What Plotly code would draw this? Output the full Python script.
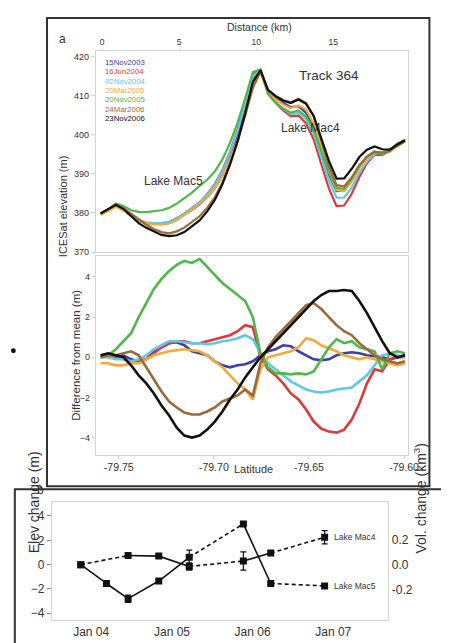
import plotly.graph_objects as go

W, H = 449, 643

# ---------------- data: panel a (profiles along Track 364) ----------------
LATITUDE = [-79.7595, -79.7555, -79.7515, -79.7475, -79.7435, -79.7395, -79.7355, -79.7315,
            -79.7275, -79.7235, -79.7195, -79.7155, -79.7115, -79.7075, -79.7035, -79.6995,
            -79.6955, -79.6915, -79.6875, -79.6835, -79.6795, -79.6755, -79.6715, -79.6675,
            -79.6635, -79.6595, -79.6555, -79.6515, -79.6475, -79.6435, -79.6395, -79.6355,
            -79.6315, -79.6275, -79.6235, -79.6195, -79.6155, -79.6115, -79.6075, -79.6035,
            -79.5995]

MEAN_ELEVATION = [379.8, 380.8, 382.0, 381.0, 379.5, 378.3, 377.5, 377.0, 376.8, 377.0,
                  377.8, 379.0, 380.5, 382.0, 384.0, 386.5, 390.0, 394.5, 400.0, 406.5,
                  414.0, 416.5, 411.0, 409.0, 407.5, 406.5, 407.0, 405.5, 402.0, 396.0,
                  390.0, 385.5, 385.5, 388.0, 391.5, 394.0, 395.5, 395.5, 396.0, 397.5, 398.5]

DIFF_15NOV2003 = [0.1, 0.0, 0.0, 0.1, -0.1, -0.2, -0.1, 0.3, 0.5, 0.7, 0.75, 0.6, 0.3, 0.2, 0.1,
                  -0.2, -0.4, -0.5, -0.4, -0.35, -0.2, 0.1, 0.3, 0.4, 0.6, 0.55, 0.3, 0.1, -0.1,
                  -0.15, -0.1, 0.1, 0.2, 0.25, 0.2, 0.1, 0.05, 0.0, -0.1, 0.0, 0.1]
DIFF_16JUN2004 = [0.0, 0.1, 0.0, -0.1, -0.2, -0.2, -0.1, 0.2, 0.5, 0.7, 0.8, 0.8, 0.7, 0.7, 0.8,
                  0.9, 1.0, 1.1, 1.3, 1.6, 1.5, 0.0, -0.6, -0.9, -1.3, -1.8, -2.1, -2.6, -3.2,
                  -3.55, -3.7, -3.75, -3.6, -3.1, -2.3, -1.3, -0.6, -0.7, -0.1, 0.0, 0.0]
DIFF_02NOV2004 = [0.0, 0.0, -0.1, -0.1, -0.2, -0.1, 0.1, 0.4, 0.6, 0.8, 0.8, 0.75, 0.7, 0.7, 0.65,
                  0.7, 0.8, 0.85, 0.95, 1.1, 0.9, 0.2, -0.3, -0.6, -0.9, -1.2, -1.4, -1.6, -1.7,
                  -1.75, -1.7, -1.6, -1.55, -1.5, -1.2, -0.9, -0.4, 0.1, 0.2, 0.1, 0.0]
DIFF_20MAR2005 = [-0.3, -0.3, -0.4, -0.4, -0.3, -0.3, -0.1, 0.1, 0.2, 0.3, 0.35, 0.4, 0.35, 0.3,
                  0.1, -0.2, -0.5, -0.9, -1.3, -1.6, -2.1, -0.6, 0.0, 0.1, 0.2, 0.3, 0.5, 0.95,
                  0.85, 0.6, 0.45, 0.3, 0.1, 0.0, -0.1, 0.0, -0.1, -0.2, -0.3, -0.4, -0.3]
DIFF_20NOV2005 = [0.0, 0.1, 0.4, 0.8, 1.2, 2.0, 2.7, 3.4, 3.9, 4.3, 4.6, 4.8, 4.7, 4.9, 4.5, 4.1,
                  3.7, 3.4, 3.1, 2.8, 2.0, 0.2, -0.5, -0.8, -0.8, -0.85, -0.8, -0.85, -0.7, -0.1,
                  0.5, 0.9, 0.7, 0.8, 0.5, 0.4, 0.3, -0.6, 0.2, 0.3, 0.2]
DIFF_24MAR2006 = [0.0, 0.1, 0.1, 0.2, 0.3, 0.1, -0.5, -1.1, -1.7, -2.2, -2.5, -2.75, -2.85,
                  -2.85, -2.7, -2.5, -2.2, -2.05, -1.9, -1.6, -1.9, -0.3, 0.5, 1.0, 1.4, 1.8,
                  2.2, 2.6, 2.7, 2.4, 2.0, 1.6, 1.3, 1.1, 0.7, 0.4, 0.1, -0.1, -0.2, -0.3, -0.2]
DIFF_23NOV2006 = [0.1, 0.2, 0.1, 0.0, -0.4, -0.9, -1.3, -1.8, -2.4, -2.9, -3.5, -3.9, -4.0,
                  -3.9, -3.6, -3.2, -2.7, -2.1, -1.6, -1.0, -0.5, 0.0, 0.4, 0.8, 1.2, 1.6, 2.0,
                  2.4, 2.8, 3.1, 3.3, 3.3, 3.35, 3.3, 2.8, 2.2, 1.5, 0.8, 0.2, 0.0, 0.1]

PASS_LABELS = ["15Nov2003", "16Jun2004", "02Nov2004", "20Mar2005",
               "20Nov2005", "24Mar2006", "23Nov2006"]
PASS_COLORS = ["#3b3fae", "#e0383a", "#5ec8e6", "#f2aa3c", "#4fb84a", "#9a6b3a", "#111111"]

DIST_TICKS_KM = [0, 5, 10, 15]
LAT_AT_0KM = -79.7587
DEG_PER_KM = 0.0081
LAT_TICKS = [-79.75, -79.70, -79.65, -79.60]
ELEV_TICKS = [370, 380, 390, 400, 410, 420]
DIFF_TICKS = [-4, -2, 0, 2, 4]

# ---------------- data: panel b (time series) ----------------
MAC5_DATES = ["2003-11-15", "2004-03-10", "2004-06-16", "2004-11-02", "2005-03-20",
              "2005-11-20", "2006-03-24", "2006-11-23"]
MAC5_ELEV = [0.0, -1.55, -2.8, -1.35, 0.6, 3.35, -1.55, -1.75]
MAC5_ERR = [0.0, 0.1, 0.3, 0.1, 0.6, 0.15, 0.1, 0.1]
MAC5_SEG = ["solid", "solid", "solid", "solid", "dash", "solid", "dash"]

MAC4_DATES = ["2003-11-15", "2004-06-16", "2004-11-02", "2005-03-20",
              "2005-11-20", "2006-03-24", "2006-11-23"]
MAC4_ELEV = [0.0, 0.75, 0.7, -0.15, 0.3, 0.95, 2.25]
MAC4_ERR = [0.0, 0.1, 0.1, 0.3, 0.75, 0.1, 0.55]
MAC4_SEG = ["dash", "solid", "solid", "dash", "solid", "dash"]

TIME_TICKS = ["2004-01-01", "2005-01-01", "2006-01-01", "2007-01-01"]
TIME_TICK_TEXT = ["Jan 04", "Jan 05", "Jan 06", "Jan 07"]
ELEV_CHANGE_TICKS = [-4, -2, 0, 2, 4]
VOL_TICKS = [-0.2, 0.0, 0.2]
VOL_TICK_TEXT = ["-0.2", "0.0", "0.2"]

FONT = "Arial, Liberation Sans, Helvetica, sans-serif"
TXT = "#333333"


def fx(p):
    return p / W


def fy(p):
    return 1 - p / H


fig = go.Figure()

diffs = [DIFF_15NOV2003, DIFF_16JUN2004, DIFF_02NOV2004, DIFF_20MAR2005,
         DIFF_20NOV2005, DIFF_24MAR2006, DIFF_23NOV2006]

for lab, col, d in zip(PASS_LABELS, PASS_COLORS, diffs):
    elev = [m + v for m, v in zip(MEAN_ELEVATION, d)]
    fig.add_trace(go.Scatter(x=LATITUDE, y=elev, xaxis="x", yaxis="y", mode="lines",
                             line=dict(color=col, width=2.2), name=lab, showlegend=False))
    fig.add_trace(go.Scatter(x=LATITUDE, y=d, xaxis="x2", yaxis="y2", mode="lines",
                             line=dict(color=col, width=2.6), name=lab, showlegend=False))


def add_series(dates, vals, segs):
    for i, st in enumerate(segs):
        fig.add_trace(go.Scatter(x=dates[i:i + 2], y=vals[i:i + 2], xaxis="x3", yaxis="y3",
                                 mode="lines", showlegend=False,
                                 line=dict(color="#111111", width=1.6,
                                           dash="solid" if st == "solid" else "4px,3px")))


add_series(MAC5_DATES, MAC5_ELEV, MAC5_SEG)
add_series(MAC4_DATES, MAC4_ELEV, MAC4_SEG)
for dates, vals, err in [(MAC5_DATES, MAC5_ELEV, MAC5_ERR), (MAC4_DATES, MAC4_ELEV, MAC4_ERR)]:
    fig.add_trace(go.Scatter(x=dates, y=vals, xaxis="x3", yaxis="y3", mode="markers",
                             showlegend=False,
                             marker=dict(symbol="square", size=7, color="#111111"),
                             error_y=dict(type="data", array=err, visible=True,
                                          color="#111111", thickness=1.2, width=3)))

# empty trace so that the right-hand axis is drawn
fig.add_trace(go.Scatter(x=[None], y=[None], xaxis="x3", yaxis="y4", showlegend=False,
                         hoverinfo="skip"))

LAT_RANGE = [-79.76205, -79.59795]
grid_line = "#d4d4d4"
tickfont = dict(family=FONT, size=9, color=TXT)

fig.update_layout(
    width=W, height=H, margin=dict(l=0, r=0, t=0, b=0),
    paper_bgcolor="white", plot_bgcolor="white", showlegend=False,
    font=dict(family=FONT, color=TXT),
    xaxis=dict(domain=[fx(90), fx(410)], anchor="y", side="top", range=LAT_RANGE,
               tickvals=[LAT_AT_0KM + DEG_PER_KM * k for k in DIST_TICKS_KM],
               ticktext=[str(k) for k in DIST_TICKS_KM],
               tickfont=dict(family=FONT, size=8.5, color=TXT),
               showgrid=False, zeroline=False, showline=True, mirror=True,
               linecolor=grid_line, linewidth=1, ticks="outside", ticklen=1,
               tickcolor=grid_line),
    yaxis=dict(domain=[fy(246), fy(43)], anchor="x", range=[370.0, 421.5],
               tickvals=ELEV_TICKS, tickfont=tickfont, showgrid=False, zeroline=False,
               showline=True, mirror=True, linecolor=grid_line, linewidth=1,
               ticks="outside", ticklen=4, tickcolor=grid_line),
    xaxis2=dict(domain=[fx(90), fx(410)], anchor="y2", range=LAT_RANGE,
                tickvals=LAT_TICKS, ticktext=["%.2f" % v for v in LAT_TICKS],
                tickfont=dict(family=FONT, size=10.5, color=TXT),
                showgrid=False, zeroline=False, showline=True, mirror=True,
                linecolor=grid_line, linewidth=1, ticks="outside", ticklen=3,
                tickcolor=grid_line),
    yaxis2=dict(domain=[fy(450), fy(250)], anchor="x2", range=[-4.84, 5.04],
                tickvals=DIFF_TICKS, tickfont=tickfont, showgrid=False, zeroline=False,
                showline=True, mirror=True, linecolor=grid_line, linewidth=1,
                ticks="outside", ticklen=3, tickcolor=grid_line),
    xaxis3=dict(domain=[fx(45), fx(390)], anchor="y3", type="date",
                range=["2003-07-07", "2007-09-08"], tickvals=TIME_TICKS,
                ticktext=TIME_TICK_TEXT, tickfont=dict(family=FONT, size=12, color=TXT),
                showgrid=False, zeroline=False, showline=True, mirror=True,
                linecolor=grid_line, linewidth=1, ticks=""),
    yaxis3=dict(domain=[fy(617), fy(498)], anchor="x3", range=[-4.57, 5.14],
                tickvals=ELEV_CHANGE_TICKS, tickfont=dict(family=FONT, size=12, color=TXT),
                showgrid=False, zeroline=False, showline=True, mirror=False,
                linecolor=grid_line, linewidth=1, ticks="outside", ticklen=4,
                tickcolor="#888888"),
    yaxis4=dict(overlaying="y3", anchor="x3", side="right", range=[-0.448, 0.504],
                tickvals=VOL_TICKS, ticktext=VOL_TICK_TEXT,
                tickfont=dict(family=FONT, size=12, color=TXT), showgrid=False,
                zeroline=False, showline=True, linecolor=grid_line, linewidth=1,
                ticks=""),
)

shapes = [
    dict(type="rect", xref="paper", yref="paper", x0=fx(40), x1=fx(432), y0=fy(482), y1=fy(10),
         line=dict(color="#333333", width=2)),
    dict(type="rect", xref="paper", yref="paper", x0=fx(7), x1=fx(446), y0=fy(641), y1=fy(485),
         line=dict(color="#333333", width=2)),
    dict(type="circle", xref="paper", yref="paper", x0=fx(3), x1=fx(8), y0=fy(348), y1=fy(343),
         fillcolor="#111111", line=dict(width=0)),
]
fig.update_layout(shapes=shapes)

ann = []
for k, (lab, col) in enumerate(zip(PASS_LABELS, PASS_COLORS)):
    ann.append(dict(xref="paper", yref="paper", x=fx(97), y=fy(55 + 9.4 * k), text=lab,
                    showarrow=False, xanchor="left", yanchor="middle",
                    font=dict(family=FONT, size=7.8, color=col)))
ann += [
    dict(xref="paper", yref="paper", x=fx(50), y=fy(22), text="a", showarrow=False,
         font=dict(family=FONT, size=12, color=TXT)),
    dict(xref="paper", yref="paper", x=fx(222), y=fy(19), text="Distance (km)", showarrow=False,
         xanchor="left", yanchor="middle", font=dict(family=FONT, size=10.5, color=TXT)),
    dict(xref="paper", yref="paper", x=fx(362), y=fy(58), text="Track 364", showarrow=False,
         font=dict(family=FONT, size=13.5, color=TXT)),
    dict(xref="paper", yref="paper", x=fx(342), y=fy(112), text="Lake Mac4", showarrow=False,
         font=dict(family=FONT, size=12, color=TXT)),
    dict(xref="paper", yref="paper", x=fx(170), y=fy(165), text="Lake Mac5", showarrow=False,
         font=dict(family=FONT, size=12, color=TXT)),
    dict(xref="paper", yref="paper", x=fx(49), y=fy(147), text="ICESat elevation (m)",
         textangle=-90, showarrow=False, font=dict(family=FONT, size=11, color=TXT)),
    dict(xref="paper", yref="paper", x=fx(62), y=fy(350), text="Difference from mean (m)",
         textangle=-90, showarrow=False, font=dict(family=FONT, size=11.5, color=TXT)),
    dict(xref="paper", yref="paper", x=fx(252), y=fy(473), text="Latitude", showarrow=False,
         font=dict(family=FONT, size=11, color=TXT)),
    dict(xref="paper", yref="paper", x=fx(28), y=fy(495), text="b", showarrow=False,
         font=dict(family=FONT, size=12, color=TXT)),
    dict(xref="paper", yref="paper", x=fx(16), y=fy(552), text="Elev change (m)",
         textangle=-90, showarrow=False, font=dict(family=FONT, size=14, color=TXT)),
    dict(xref="paper", yref="paper", x=fx(434), y=fy(552), text="Vol. change (km<sup>3</sup>)",
         textangle=-90, showarrow=False, font=dict(family=FONT, size=14, color=TXT)),
    dict(xref="x3", yref="y3", x=MAC4_DATES[-1], y=MAC4_ELEV[-1], text="Lake Mac4",
         xanchor="left", xshift=7, showarrow=False, font=dict(family=FONT, size=8.5, color=TXT)),
    dict(xref="x3", yref="y3", x=MAC5_DATES[-1], y=MAC5_ELEV[-1], text="Lake Mac5",
         xanchor="left", xshift=7, showarrow=False, font=dict(family=FONT, size=8.5, color=TXT)),
]
fig.update_layout(annotations=ann)

fig.write_html("out.html")
